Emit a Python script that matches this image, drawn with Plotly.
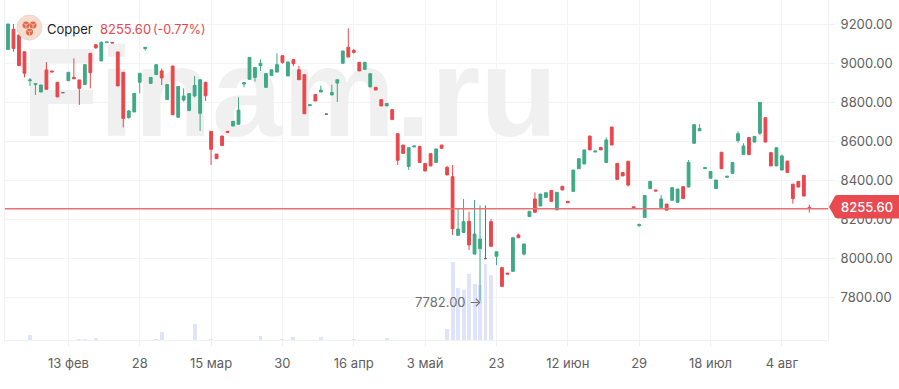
import plotly.graph_objects as go

# --- data ---
opens = [9070,9173,9144,9058,8910,8890,8852,8965,8960,8902,8849,8910,8927,8914,8890,9050,9094,9011,9105,9106,
         9057,8953,8721,8750,8902,9074,8896,8941,8960,8813,8985,8723,8811,8757,8832,8743,8902,8651,8535,8627,
         8651,8678,8687,8893,8917,8927,8987,8876,8936,8954,9038,8934,9018,8966,8941,8782,8839,8852,8739,8837,
         8898,8999,9081,9065,9004,8968,8878,8876,8813,8781,8762,8639,8581,8471,8571,8574,8486,8537,8492,8581,
         8467,8419,8119,8134,8191,8023,8051,8000,8189,8012,7954,7926,7935,8121,8023,8215,8305,8269,8313,8349,
         8249,8370,8293,8344,8460,8484,8627,8545,8569,8492,8673,8487,8440,8498,8265,8168,8211,8358,8351,8261,
         8279,8298,8288,8368,8366,8590,8654,8460,8411,8358,8544,8416,8436,8603,8532,8619,8596,8641,8721,8542,
         8474,8453,8499,8381,8395,8426,8262]
highs = [9200,9200,9144,9058,8924,8897,8888,9005,8960,8902,8850,8953,9024,8914,8992,9050,9094,9111,9108,9106,
         9057,8953,8760,8845,8948,9081,8927,8992,8973,8890,8985,8881,8871,8844,8934,8915,8902,8651,8535,8627,
         8651,8702,8825,8900,9029,8978,9019,8946,8966,9050,9038,9006,9018,8986,8941,8787,8839,8885,8741,8890,
         8915,9062,9178,9072,9004,9004,8946,8876,8813,8794,8762,8639,8581,8567,8576,8574,8486,8537,8561,8581,
         8474,8479,8257,8305,8240,8300,8272,8272,8203,8035,7954,7926,8107,8128,8075,8242,8339,8330,8337,8349,
         8339,8370,8293,8453,8511,8556,8627,8550,8569,8620,8673,8487,8440,8498,8265,8178,8323,8395,8351,8325,
         8279,8363,8356,8368,8504,8685,8687,8465,8446,8402,8544,8421,8491,8651,8590,8619,8625,8799,8721,8542,
         8567,8532,8499,8381,8395,8426,8276]
lows = [9070,9058,8987,8927,8883,8837,8852,8866,8955,8827,8848,8910,8920,8786,8890,8871,9072,9011,9105,9103,
        8883,8671,8716,8750,8845,9064,8896,8941,8888,8813,8736,8723,8803,8757,8825,8653,8806,8479,8511,8578,
        8646,8678,8687,8876,8917,8905,8960,8876,8936,8954,8997,8934,8985,8915,8741,8782,8806,8852,8736,8837,
        8801,8999,9031,9048,8960,8968,8878,8862,8781,8781,8711,8479,8538,8454,8571,8492,8448,8474,8492,8564,
        8428,8121,8119,8134,8044,8023,7782,7998,8063,7967,7858,7921,7935,8107,8017,8215,8237,8269,8313,8293,
        8249,8351,8286,8344,8460,8484,8556,8545,8556,8492,8581,8405,8423,8369,8260,8164,8211,8358,8346,8261,
        8248,8298,8288,8307,8366,8590,8654,8460,8411,8358,8460,8416,8436,8593,8532,8532,8596,8632,8596,8474,
        8474,8453,8441,8281,8366,8320,8235]
closes = [9200,9075,8987,8948,8914,8895,8888,8866,8955,8827,8849,8953,8920,8871,8992,8951,9079,9106,9108,9103,
          8883,8717,8755,8845,8948,9081,8927,8992,8924,8890,8736,8881,8832,8844,8886,8915,8833,8559,8511,8578,
          8646,8702,8760,8900,9029,8978,8999,8946,8966,8992,9004,9006,8997,8915,8741,8787,8806,8862,8739,8850,
          8915,9062,9031,9055,8960,9004,8946,8862,8781,8794,8711,8503,8538,8567,8576,8492,8448,8474,8561,8564,
          8428,8153,8151,8189,8070,8126,8100,8000,8063,8035,7858,7921,8107,8107,8075,8242,8237,8330,8337,8293,
          8339,8351,8286,8453,8511,8556,8556,8550,8556,8607,8581,8405,8423,8376,8260,8175,8323,8395,8346,8305,
          8248,8363,8356,8307,8492,8685,8665,8465,8446,8402,8460,8421,8491,8639,8576,8532,8625,8799,8596,8474,
          8567,8525,8441,8307,8366,8320,8255.6]

volume_index = [4,13,14,16,27,28,34,37,46,50,52,57,63,69,80,81,82,83,84,85,86,87,88]
volume_values = [5,1,1,2,1,8,16,1,4,1,3,3,1,2,11,78,52,50,66,56,55,76,65]

x_tick_index = [11,24,37,50,63,76,89,102,115,128,141]
x_tick_labels = ["13 фев","28","15 мар","30","16 апр","3 май","23","12 июн","29","18 июл","4 авг"]
y_tick_values = [7800,8000,8200,8400,8600,8800,9000,9200]
y_tick_labels = ["7800.00","8000.00","8200.00","8400.00","8600.00","8800.00","9000.00","9200.00"]
last_price = 8255.60
low_price = 7782.00

# --- styling ---
W, H = 899, 389
L, R, B = 5, 828, 340
GREEN, RED, GRAY = "#3FA987", "#E9474C", "#6E6E73"
GRID = "#F3F4F6"
FONT = "Inter"
TXT = "#606060"

px = lambda v: (v - L) / (R - L)
py = lambda v: (B - v) / B

fig = go.Figure()

# watermark + volume sit on the lower axes pair, drawn under the candles
fig.add_trace(go.Scatter(x=[51.3], y=[236], mode="text", text=["Finam.ru"], textposition="middle center",
                         textfont=dict(family="Liberation Sans", size=127, color="#F0F0F0", weight=700),
                         hoverinfo="skip", showlegend=False, cliponaxis=False))
fig.add_trace(go.Bar(x=volume_index, y=volume_values, width=0.72, marker=dict(color="#DFE4FB", line_width=0),
                     hoverinfo="skip", showlegend=False))

idx = list(range(len(opens)))
for flat in (False, True):
    sel = [i for i in idx if (opens[i] == closes[i]) == flat]
    fig.add_trace(go.Candlestick(
        x=sel,
        open=[opens[i] for i in sel], high=[highs[i] for i in sel],
        low=[lows[i] for i in sel], close=[closes[i] for i in sel],
        increasing=dict(line=dict(color=GRAY if flat else GREEN, width=1), fillcolor=GRAY if flat else GREEN),
        decreasing=dict(line=dict(color=GRAY if flat else RED, width=1), fillcolor=GRAY if flat else RED),
        whiskerwidth=0, yaxis="y2", showlegend=False, hoverinfo="skip"))

shapes = [
    dict(type="line", xref="paper", x0=0, x1=1, yref="y2", y0=last_price, y1=last_price,
         line=dict(color="#EC6F74", width=1.5), layer="above"),
    dict(type="path", xref="paper", yref="paper", fillcolor="#E84A50", line_width=0, layer="above",
         path=f"M {px(829)} {py(207)} L {px(835)} {py(196)} Q {px(836)} {py(195)} {px(838)} {py(195)} "
              f"L {px(899)} {py(195)} L {px(899)} {py(218.5)} L {px(838)} {py(218.5)} Q {px(836)} {py(218.5)} {px(835)} {py(217.5)} Z"),
    dict(type="circle", xref="paper", yref="paper", x0=px(17), x1=px(42), y0=py(40), y1=py(15),
         fillcolor="#F6DDD2", line=dict(color="#EFD5C8", width=1), layer="above"),
]
for cx, cy in [(26, 25), (33, 25), (29.5, 32)]:
    shapes.append(dict(type="circle", xref="paper", yref="paper", x0=px(cx - 3.5), x1=px(cx + 3.5),
                       y0=py(cy + 3.5), y1=py(cy - 3.5), fillcolor="#E0694A", line_width=0, layer="above"))
    shapes.append(dict(type="path", xref="paper", yref="paper", layer="above", line=dict(color="#F6DDD2", width=0.7),
                       path=f"M {px(cx)} {py(cy)} L {px(cx)} {py(cy + 3)} M {px(cx)} {py(cy)} L {px(cx - 2.6)} {py(cy - 1.5)} "
                            f"M {px(cx)} {py(cy)} L {px(cx + 2.6)} {py(cy - 1.5)}"))

annotations = [
    dict(x=px(45), y=py(29), xref="paper", yref="paper", text="Copper", showarrow=False, xanchor="left",
         yanchor="middle", font=dict(family=FONT, size=13, color="#1B1F2E")),
    dict(x=px(98), y=py(29), xref="paper", yref="paper", text="8255.60", showarrow=False, xanchor="left",
         yanchor="middle", font=dict(family=FONT, size=13, color=RED)),
    dict(x=px(151), y=py(29), xref="paper", yref="paper", text="(-0.77%)", showarrow=False, xanchor="left",
         yanchor="middle", font=dict(family=FONT, size=12.5, color=RED)),
    dict(x=px(867), y=py(207), xref="paper", yref="paper", text="8255.60", showarrow=False, xanchor="center",
         yanchor="middle", font=dict(family=FONT, size=13, color="white", weight=500)),
    dict(x=86, y=low_price, xref="x", yref="y2", text=f"{low_price:.2f} →", showarrow=False, xanchor="right",
         yanchor="middle", xshift=4, yshift=-1, font=dict(family=FONT, size=13, color="#707070")),
]

fig.update_layout(
    width=W, height=H, paper_bgcolor="white", plot_bgcolor="white",
    margin=dict(l=L, r=W - R, t=0, b=H - B, pad=0),
    showlegend=False, boxgap=0.27, bargap=0, shapes=shapes, annotations=annotations,
    xaxis=dict(range=[-0.547, 149.4], tickmode="array", tickvals=x_tick_index, ticktext=x_tick_labels,
               showgrid=True, gridcolor=GRID, gridwidth=1, zeroline=False, showline=True, linecolor="#EEF0F4",
               linewidth=1, ticks="outside", ticklen=5, tickcolor="#EEF0F4", ticklabelstandoff=6,
               tickfont=dict(family=FONT, size=13, color=TXT), rangeslider=dict(visible=False), fixedrange=True),
    yaxis=dict(range=[0, 340], visible=False, fixedrange=True),
    yaxis2=dict(range=[7583.7, 9322.8], overlaying="y", side="right", tickmode="array", tickvals=y_tick_values,
                ticktext=y_tick_labels, showgrid=True, gridcolor=GRID, gridwidth=1, zeroline=False, showline=True,
                mirror=True, linecolor="#EEF0F4", linewidth=1, ticks="outside", ticklen=6, tickcolor="#EEF0F4",
                ticklabelstandoff=3, tickfont=dict(family=FONT, size=13, color=TXT), fixedrange=True),
)

fig.write_html("out.html", config=dict(displayModeBar=False),
               post_script="document.body.style.margin='0';document.body.style.overflow='hidden';")
